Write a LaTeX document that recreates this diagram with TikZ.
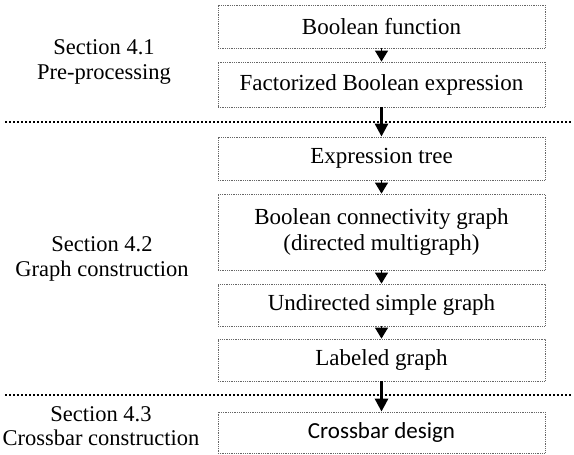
\documentclass[tikz,border=0pt]{standalone}
\usepackage{fontspec}
\setmainfont{Liberation Serif}
\newfontfamily\cbfont{Carlito}
\usetikzlibrary{arrows.meta}
\colorlet{boxline}{black!60}

\tikzset{
  stage/.style={draw=boxline, densely dotted, line width=0.8pt, minimum width=327pt,
    minimum height=43pt, inner sep=0pt, align=center, font=\fontsize{23}{25.5}\selectfont},
  sect/.style={align=center, font=\fontsize{22.5}{24.5}\selectfont},
  flow/.style={-{Triangle[width=13pt,length=11pt]}, line width=1.2pt},
  crossflow/.style={-{Triangle[width=13pt,length=13pt]}, line width=3pt},
  divider/.style={line width=2pt, dash pattern=on 2pt off 2pt}
}

\begin{document}
\begin{tikzpicture}[x=1pt,y=-1pt]
\useasboundingbox (0,0) rectangle (574,455);
% flow stages
\node[stage] (bf)  at (381.5,26.5) {Boolean function};
\node[stage, minimum height=45pt] (fbe) at (381.5,84.5) {Factorized Boolean expression};
\node[stage] (et)  at (381.5,158.5) {Expression tree};
\node[stage, minimum height=76pt] (bcg) at (381.5,232) {Boolean connectivity graph\\(directed multigraph)};
\node[stage, minimum height=42pt] (usg) at (381.5,305) {Undirected simple graph};
\node[stage, minimum height=42pt] (lg)  at (381.5,360) {Labeled graph};
\node[stage, minimum height=41pt, font=\cbfont\fontsize{23}{25.5}\selectfont] (cd) at (381.5,432.5) {Crossbar design};
% section labels
\node[sect] (s1) at (104,62) {Section 4.1\\Pre-processing};
\node[sect] (s2) at (102,259) {Section 4.2\\Graph construction};
\node[sect] (s3) at (101,426) {Section 4.3\\Crossbar construction};
% dividers
\coordinate (d1l) at (5,122);
\coordinate (d1r) at (571,122);
\coordinate (d2l) at (5,395);
\coordinate (d2r) at (571,395);
\draw[divider] (d1l) -- (d1r);
\draw[divider] (d2l) -- (d2r);
% arrows
\draw[flow] (bf) -- (fbe);
\draw[flow] (et) -- (bcg);
\draw[flow] (bcg) -- (usg);
\draw[flow] (usg) -- (lg);
\draw[crossflow] (fbe) -- (et);
\draw[crossflow] (lg) -- (cd);
\end{tikzpicture}
\end{document}
